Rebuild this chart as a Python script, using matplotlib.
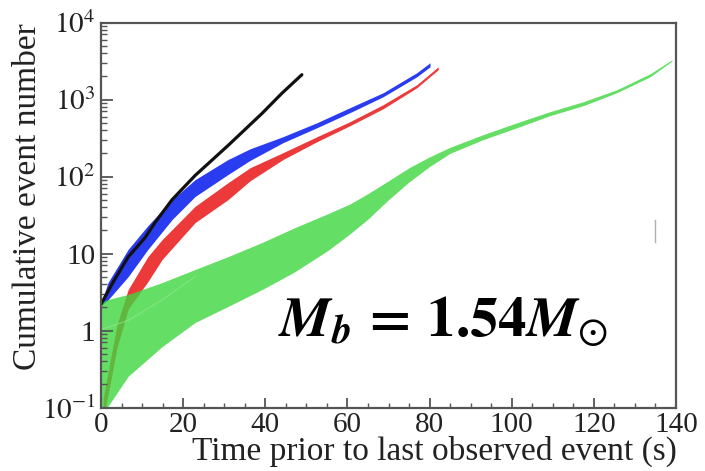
import numpy as np
import matplotlib
matplotlib.use("Agg")
import matplotlib.pyplot as plt
from matplotlib.ticker import FixedLocator, MultipleLocator, LogLocator, NullFormatter

# values (x in s, y = cumulative events)
black_x = [0, 3.0, 6.6, 10.7, 13.1, 17.3, 22.9, 30.9, 39.2, 44.0, 48.9]
black_y = [2.2, 4.3, 9.0, 16, 25, 50, 103, 252, 660, 1200, 2100]

blue_x = [0, 1.7, 6.6, 11.4, 17.3, 22.9, 30.9, 36.3, 44.3, 52.6, 60.6, 68.7, 76.9, 80.1]
blue_lo = [2.1, 2.5, 5.0, 11.3, 27.6, 55, 106, 162, 275, 431, 675, 1087, 1975, 2660]
blue_hi = [2.25, 4.2, 11.3, 23, 50, 91, 166, 229, 329, 500, 783, 1225, 2230, 3000]

red_x = [0.5, 2.2, 3.9, 6.6, 11.4, 14.9, 22.9, 30.9, 36.3, 44.3, 52.6, 60.6, 68.7, 76.9, 82.1]
red_lo = [0.07, 0.2, 0.6, 1.9, 4.3, 8.4, 25.2, 50, 88, 166, 284, 457, 760, 1422, 2440]
red_hi = [0.13, 0.4, 1.2, 3.4, 9.1, 15.2, 41, 83, 130, 204, 329, 515, 857, 1556, 2660]

green_x = [0, 1.7, 6.6, 14.9, 22.9, 30.9, 39.2, 47.2, 55.3, 60.6, 65, 70, 75, 80, 85,
           93.0, 101.3, 109.3, 117.4, 125.6, 133.7, 139.0]
green_lo = [0.05, 0.104, 0.254, 0.62, 1.27, 2.05, 3.4, 5.8, 11, 18, 28, 50, 85, 135, 200,
            301, 431, 617, 832, 1225, 1975, 3150]
green_hi = [2.31, 2.53, 2.94, 4.2, 6.2, 9.1, 13.9, 21.7, 33, 44, 60, 88, 130, 180, 240,
            349, 500, 695, 935, 1340, 2160, 3280]

# faint line inside the green band
gline_x = [0, 6.6, 14.9, 22.9]
gline_y = [1.03, 1.35, 2.5, 5.0]

xticks = [0, 20, 40, 60, 80, 100, 120, 140]
yticks = [0.1, 1, 10, 100, 1000, 10000]
ytick_labels = [r"$10^{-1}$", "1", "10", r"$10^{2}$", r"$10^{3}$", r"$10^{4}$"]

plt.rcParams["font.family"] = "Liberation Serif"
plt.rcParams["mathtext.fontset"] = "stix"

fig = plt.figure(figsize=(7.05, 4.71), dpi=100)
ax = fig.add_axes([0.1433, 0.1348, 0.8156, 0.8174])

ax.fill_between(red_x, red_lo, red_hi, color="#ec3a3a", lw=0)
ax.plot(black_x, black_y, color="#111111", lw=2.3, solid_capstyle="round")
ax.fill_between(blue_x, blue_lo, blue_hi, color="#2a3cf0", lw=0)
ax.fill_between(green_x, green_lo, green_hi, color="#3fd63f", alpha=0.8, lw=0)
ax.plot(gline_x, gline_y, color="#8fe88f", lw=1, alpha=0.6)

# small grey mark near the right edge
ax.plot([134.9, 134.9], [13.9, 27.6], color="#b0b0b0", lw=1)

ax.set_yscale("log")
ax.set_xlim(0, 140)
ax.set_ylim(0.1, 1e4)

ax.xaxis.set_major_locator(FixedLocator(xticks))
ax.xaxis.set_minor_locator(MultipleLocator(5))
ax.set_xticklabels([str(t) for t in xticks])
ax.yaxis.set_major_locator(FixedLocator(yticks))
ax.yaxis.set_minor_locator(LogLocator(base=10, subs=np.arange(2, 10)))
ax.yaxis.set_minor_formatter(NullFormatter())
ax.set_yticklabels(ytick_labels)

for s in ax.spines.values():
    s.set_color("#555555")
    s.set_linewidth(1.6)

ax.tick_params(which="both", direction="in", top=False, right=False,
               color="#555555", labelsize=21, labelcolor="#222222")
ax.tick_params(axis="y", which="major", length=8.5, width=1.3, pad=4)
ax.tick_params(axis="y", which="minor", length=4.5, width=1)
ax.tick_params(axis="x", which="major", length=7, width=1.3, pad=3)
ax.tick_params(axis="x", which="minor", length=3.5, width=1)

ax.set_xlabel("Time prior to last observed event (s)", fontsize=24,
              color="#222222", va="baseline")
ax.xaxis.set_label_coords(0.579, -0.136)
ax.set_ylabel("Cumulative event number", fontsize=24, color="#222222",
              va="center", ha="center")
ax.yaxis.set_label_coords(-0.127, 0.549)

ax.text(0.308, 0.188, r"$\mathbfit{M}_{\mathbfit{b}}\mathbf{\,=\,1.54}\mathbfit{M}_{\odot}$",
        transform=ax.transAxes, fontsize=41, va="baseline", color="black")

plt.savefig("out.png", dpi=100)
